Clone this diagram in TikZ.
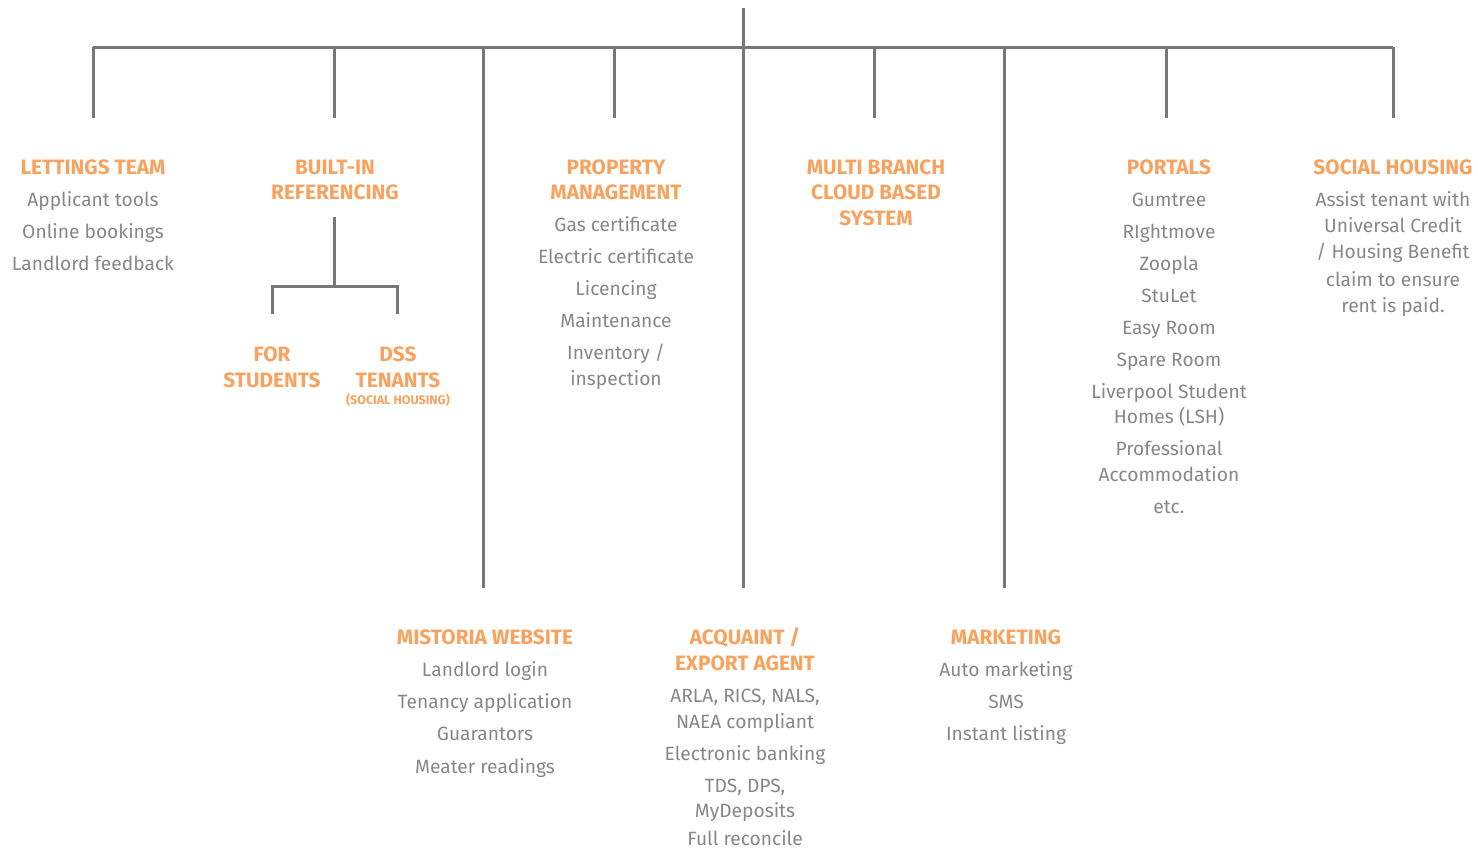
\documentclass[tikz,border=0pt]{standalone}
\usepackage{fontspec}
\setmainfont{Fira Sans}
\definecolor{hdc}{HTML}{F7A35F}
\definecolor{txc}{HTML}{878787}
\definecolor{lnc}{HTML}{77777B}
\tikzset{
  hd/.style={anchor=base, inner sep=0pt, text=hdc, font=\fontsize{20.8}{21}\selectfont\bfseries},
  it/.style={anchor=base, inner sep=0pt, text=txc, font=\fontsize{19.2}{19}\selectfont},
  sm/.style={anchor=base, inner sep=0pt, text=hdc, font=\fontsize{12.5}{12}\selectfont\bfseries},
  ln/.style={draw=lnc, line width=3pt}
}
\begin{document}
\begin{tikzpicture}[x=1pt,y=-1pt]
\useasboundingbox (0,0) rectangle (1478,849);
% tree lines
\coordinate (top) at (743,8);
\foreach \x/\b [count=\i] in {93/118,334/118,483/588,614/118,743/588,874/118,1004/588,1166/118,1393/118}{
  \coordinate (t\i) at (\x,47);
  \coordinate (b\i) at (\x,\b);
}
\draw[ln] (t1) -- (t9);
\draw[ln] (top) -- (b5);
\foreach \i in {1,2,3,4,6,7,8,9}{\draw[ln] (t\i) -- (b\i);}
\coordinate (s0) at (334,217);
\coordinate (s1) at (334,286);
\coordinate (sl) at (272,286);
\coordinate (sr) at (397,286);
\coordinate (sl2) at (272,314);
\coordinate (sr2) at (397,314);
\draw[ln] (s0) -- (s1);
\draw[ln] (sl2) -- (sl) -- (sr) -- (sr2);
% Lettings team
\node[hd] (lt) at (93,174) {LETTINGS TEAM};
\node[it] (lt1) at (93,206) {Applicant tools};
\node[it] (lt2) at (93,238) {Online bookings};
\node[it] (lt3) at (93,270) {Landlord feedback};
% Built-in referencing
\node[hd] (br1) at (335,174) {BUILT-IN};
\node[hd] (br2) at (335,199) {REFERENCING};
\node[hd] (fs1) at (272,361) {FOR};
\node[hd] (fs2) at (272,387) {STUDENTS};
\node[hd] (ds1) at (398,361) {DSS};
\node[hd] (ds2) at (398,387) {TENANTS};
\node[sm] (ds3) at (398,404.5) {(SOCIAL HOUSING)};
% Property management
\node[hd] (pm1) at (616,174) {PROPERTY};
\node[hd] (pm2) at (616,199) {MANAGEMENT};
\node[it] (pm3) at (616,231) {Gas certificate};
\node[it] (pm4) at (616,263) {Electric certificate};
\node[it] (pm5) at (616,295) {Licencing};
\node[it] (pm6) at (616,327) {Maintenance};
\node[it] (pm7) at (616,359) {Inventory /};
\node[it] (pm8) at (616,385) {inspection};
% Multi branch
\node[hd] (mb1) at (876,174) {MULTI BRANCH};
\node[hd] (mb2) at (876,199) {CLOUD BASED};
\node[hd] (mb3) at (876,225) {SYSTEM};
% Portals
\node[hd] (po) at (1169,174) {PORTALS};
\node[it] (po1) at (1169,206) {Gumtree};
\node[it] (po2) at (1169,238) {RIghtmove};
\node[it] (po3) at (1169,270) {Zoopla};
\node[it] (po4) at (1169,302) {StuLet};
\node[it] (po5) at (1169,334) {Easy Room};
\node[it] (po6) at (1169,366) {Spare Room};
\node[it] (po7) at (1169,398) {Liverpool Student};
\node[it] (po8) at (1169,423) {Homes (LSH)};
\node[it] (po9) at (1169,455) {Professional};
\node[it] (po10) at (1169,481) {Accommodation};
\node[it] (po11) at (1169,513) {etc.};
% Social housing
\node[hd] (sh) at (1393,174) {SOCIAL HOUSING};
\node[it] (sh1) at (1393,206) {Assist tenant with};
\node[it] (sh2) at (1393,232) {Universal Credit};
\node[it] (sh3) at (1393,258) {/ Housing Benefit};
\node[it] (sh4) at (1393,286) {claim to ensure};
\node[it] (sh5) at (1393,312) {rent is paid.};
% Mistoria website
\node[hd] (mw) at (485,644) {MISTORIA WEBSITE};
\node[it] (mw1) at (485,676) {Landlord login};
\node[it] (mw2) at (485,708) {Tenancy application};
\node[it] (mw3) at (485,740) {Guarantors};
\node[it] (mw4) at (485,773) {Meater readings};
% Acquaint
\node[hd] (aq1) at (745,644) {ACQUAINT /};
\node[hd] (aq2) at (745,670) {EXPORT AGENT};
\node[it] (aq3) at (745,702) {ARLA, RICS, NALS,};
\node[it] (aq4) at (745,728) {NAEA compliant};
\node[it] (aq5) at (745,760) {Electronic banking};
\node[it] (aq6) at (745,792) {TDS, DPS,};
\node[it] (aq7) at (745,817) {MyDeposits};
\node[it] (aq8) at (745,845.5) {Full reconcile};
% Marketing
\node[hd] (mk) at (1006,644) {MARKETING};
\node[it] (mk1) at (1006,676) {Auto marketing};
\node[it] (mk2) at (1006,708) {SMS};
\node[it] (mk3) at (1006,740) {Instant listing};
\end{tikzpicture}
\end{document}
